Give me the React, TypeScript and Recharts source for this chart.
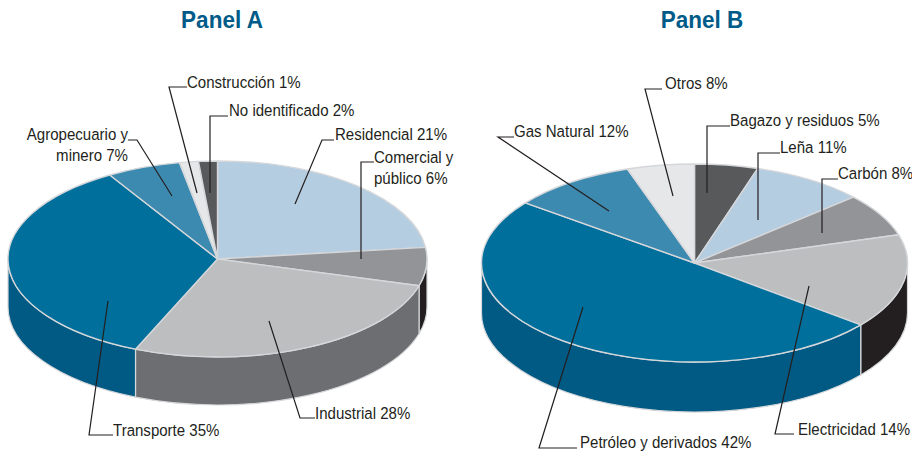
import React from 'react';
import { PieChart, Pie } from 'recharts';

// slice sizes are measured from the drawing, the printed % labels don't match them exactly
const namesA = ['Residencial', 'Comercial y\npúblico', 'Industrial', 'Transporte', 'Agropecuario y\nminero', 'Construcción', 'No identificado'];
const printedA = [21, 6, 28, 35, 7, 1, 2];
const sharesA = [23.1, 6.3, 27, 35, 5.7, 1.45, 1.45];
const colorsA = ['#b5cde0', '#929497', '#bcbec0', '#006f9b', '#3d8ab0', '#e6e7e8', '#58595b'];
const wallsA = ['#b5cde0', '#231f20', '#6d6e71', '#005a84', '#3d8ab0', '#e6e7e8', '#58595b'];

const namesB = ['Bagazo y residuos', 'Leña', 'Carbón', 'Electricidad', 'Petróleo y derivados', 'Gas Natural', 'Otros'];
const printedB = [5, 11, 8, 14, 42, 12, 8];
const sharesB = [4.8, 8.6, 7, 15.35, 49.65, 9.5, 5.1];
const colorsB = ['#58595b', '#b5cde0', '#929497', '#bcbec0', '#006f9b', '#3d8ab0', '#e6e7e8'];
const wallsB = ['#58595b', '#b5cde0', '#929497', '#231f20', '#005a84', '#3d8ab0', '#e6e7e8'];

// no condensed font is installed, so the text is squeezed sideways
const FONT = '"Liberation Sans", sans-serif';
const LABEL_SQUEEZE = 0.885;
const TITLE_SQUEEZE = 0.92;
const EDGE = '#d5d7da';
const INK = '#231f20';
const TITLE = '#005b88';

// where each label sits and how its leader runs
type Callout = { x: number; y: number; anchor?: 'start' | 'end'; leader: number[][] };

const calloutsA: Callout[] = [
  { x: 335, y: 140, leader: [[334, 140], [322, 140], [295, 204]] },
  { x: 374, y: 163, leader: [[374, 162], [361, 162], [361, 259]] },
  { x: 315, y: 419, leader: [[315, 418], [300, 418], [269, 321]] },
  { x: 113, y: 436, leader: [[113, 435], [89, 435], [108, 301]] },
  { x: 128, y: 140, anchor: 'end', leader: [[128, 140], [137, 140], [172, 196]] },
  { x: 187, y: 88, leader: [[187, 87], [169, 87], [197, 193]] },
  { x: 229, y: 116, leader: [[228, 116], [210, 116], [210, 193]] },
];

const calloutsB: Callout[] = [
  { x: 730, y: 126, leader: [[730, 126], [707, 126], [707, 193]] },
  { x: 780, y: 153, leader: [[780, 153], [758, 153], [758, 220]] },
  { x: 838, y: 179, leader: [[838, 179], [822, 179], [822, 233]] },
  { x: 798, y: 435, leader: [[794, 434], [775, 434], [809, 286]] },
  { x: 580, y: 448, leader: [[577, 448], [539, 448], [583, 307]] },
  { x: 514, y: 137, leader: [[514, 137], [498, 137], [609, 211]] },
  { x: 665, y: 89, leader: [[662, 89], [645, 89], [673, 196]] },
];

const buildRows = (names: string[], shares: number[], printed: number[], colors: string[], walls: string[]) =>
  names.map((name, i) => ({ name, share: shares[i], printed: printed[i], top: colors[i], wall: walls[i] }));

const rowsA = buildRows(namesA, sharesA, printedA, colorsA, wallsA);
const rowsB = buildRows(namesB, sharesB, printedB, colorsB, wallsB);

const rad = (deg: number) => (deg * Math.PI) / 180;

// Recharts only draws circles, so the sectors get squashed here
const topSlice = (ry: number) => (props: any) => {
  const { cx, cy, outerRadius: rx, startAngle, endAngle, payload } = props;
  const x0 = cx + rx * Math.cos(rad(startAngle));
  const y0 = cy - ry * Math.sin(rad(startAngle));
  const x1 = cx + rx * Math.cos(rad(endAngle));
  const y1 = cy - ry * Math.sin(rad(endAngle));
  const large = Math.abs(startAngle - endAngle) > 180 ? 1 : 0;
  return (
    <path
      d={`M${cx},${cy} L${x0},${y0} A${rx},${ry} 0 ${large} 1 ${x1},${y1} Z`}
      fill={payload.top}
      stroke={EDGE}
      strokeWidth={1.4}
      strokeLinejoin="round"
    />
  );
};

const wallSlice = (ry: number, depth: number) => (props: any) => {
  const { cx, cy, outerRadius: rx, startAngle, endAngle, payload } = props;
  // only the front half of the rim shows
  const a = Math.min(startAngle, 0);
  const b = Math.max(endAngle, -180);
  if (a <= b) return <g />;
  const xa = cx + rx * Math.cos(rad(a));
  const ya = cy - ry * Math.sin(rad(a));
  const xb = cx + rx * Math.cos(rad(b));
  const yb = cy - ry * Math.sin(rad(b));
  return (
    <path
      d={`M${xa},${ya} A${rx},${ry} 0 0 1 ${xb},${yb} L${xb},${yb + depth} A${rx},${ry} 0 0 0 ${xa},${ya + depth} Z`}
      fill={payload.wall}
      stroke={EDGE}
      strokeWidth={1.2}
      strokeLinejoin="round"
    />
  );
};

const calloutLabel = (callouts: Callout[]) => (props: any) => {
  const { index, name, payload } = props;
  const c = callouts[index];
  const rawName: string = name ?? payload?.name;
  const printed = payload?.printed ?? props.printed;
  const lines = `${rawName} ${printed}%`.split('\n');
  return (
    <g>
      <polyline points={c.leader.map(p => p.join(',')).join(' ')} fill="none" stroke={INK} strokeWidth={1.2} />
      <text
        transform={`translate(${c.x},${c.y}) scale(${LABEL_SQUEEZE},1)`}
        textAnchor={c.anchor ?? 'start'}
        fontFamily={FONT}
        fontSize={17}
        fill={INK}
      >
        {lines.map((line, i) => (
          <tspan key={i} x={0} dy={i === 0 ? 0 : 21}>{line}</tspan>
        ))}
      </text>
    </g>
  );
};

const App = () => {
  const common = { dataKey: 'share', nameKey: 'name', startAngle: 90, endAngle: -270, isAnimationActive: false as const };

  return (
    <div style={{ position: 'absolute', left: 0, top: 0, width: 912, height: 454, background: '#fff' }}>
      <PieChart width={912} height={454} margin={{ top: 0, right: 0, bottom: 0, left: 0 }}>
        <text transform={`translate(222,27.5) scale(${TITLE_SQUEEZE},1)`} textAnchor="middle" fontFamily={FONT} fontWeight="bold" fontSize={24.5} fill={TITLE}>Panel A</text>
        <text transform={`translate(702,27.5) scale(${TITLE_SQUEEZE},1)`} textAnchor="middle" fontFamily={FONT} fontWeight="bold" fontSize={24.5} fill={TITLE}>Panel B</text>

        <Pie {...common} data={rowsA} cx={217.5} cy={259} outerRadius={209.5} shape={wallSlice(98, 48)} label={false} labelLine={false} />
        <Pie {...common} data={rowsA} cx={217.5} cy={259} outerRadius={209.5} shape={topSlice(98)} label={calloutLabel(calloutsA)} labelLine={false} />

        <Pie {...common} data={rowsB} cx={694.5} cy={263} outerRadius={213} shape={wallSlice(99, 50)} label={false} labelLine={false} />
        <Pie {...common} data={rowsB} cx={694.5} cy={263} outerRadius={213} shape={topSlice(99)} label={calloutLabel(calloutsB)} labelLine={false} />
      </PieChart>
    </div>
  );
};

export default App;
